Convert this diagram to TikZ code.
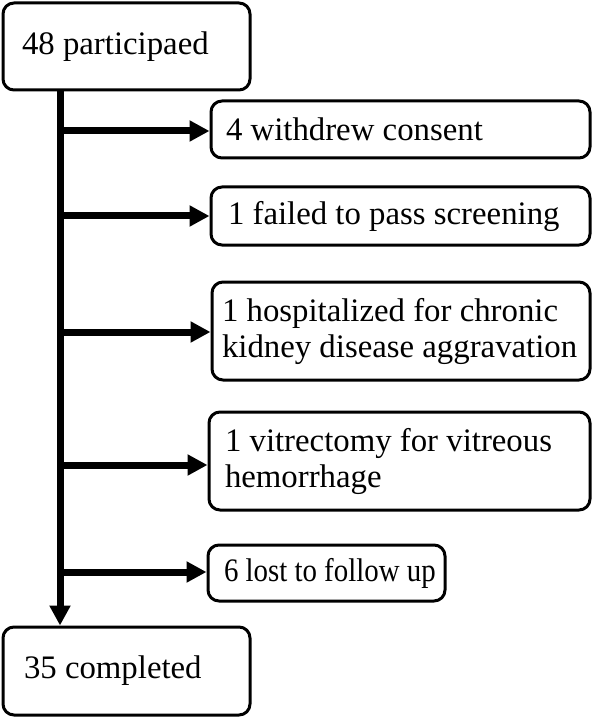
\documentclass[tikz,border=0pt]{standalone}
\usepackage{fontspec}
\usepackage{graphicx}
\setmainfont{Liberation Serif}
\usetikzlibrary{arrows.meta}
\hyphenpenalty=10000
\exhyphenpenalty=10000
\begin{document}
\begin{tikzpicture}[x=1pt,y=-1pt,
  box/.style={draw, line width=3pt, rounded corners=11pt, inner ysep=0pt,
    font=\fontsize{32.8}{36}\selectfont, align=flush left},
  flow/.style={line width=7pt, -{Triangle[length=20pt,width=20pt]}}]
\useasboundingbox (0,0) rectangle (596,719);
\node[box, minimum width=247pt, minimum height=87pt, text width=209pt, inner xsep=19pt] (top) at (126.5,46.5) {\mbox{48 participaed}};
\node[box, minimum width=247pt, minimum height=88pt, text width=205pt, inner xsep=21pt] (bot) at (126.5,671) {\mbox{35 completed}};
\node[box, minimum width=379pt, minimum height=57pt, text width=349pt, inner xsep=15pt] (b1) at (400.5,129.5) {\mbox{4 withdrew consent}};
\node[box, minimum width=379pt, minimum height=58pt, text width=345pt, inner xsep=17pt] (b2) at (400.5,216) {\mbox{1 failed to pass screening}};
\node[box, minimum width=378pt, minimum height=98pt, text width=358pt, inner xsep=10pt] (b3) at (401,331) {\mbox{1 hospitalized for chronic}\\\mbox{kidney disease aggravation}};
\node[box, minimum width=381pt, minimum height=98pt, text width=349pt, inner xsep=16pt] (b4) at (399.5,461) {\mbox{1 vitrectomy for vitreous}\\\mbox{hemorrhage}};
\node[box, minimum width=237pt, minimum height=56pt, text width=205pt, inner xsep=16pt] (b5) at (326.5,573) {\scalebox{0.88}[1]{6 lost to follow up}};
\coordinate (t1) at (60,131);
\coordinate (t2) at (60,216);
\coordinate (t3) at (60,332);
\coordinate (t4) at (60,465);
\coordinate (t5) at (60,572);
\draw[flow] (top.south -| t1) -- (bot.north -| t1);
\draw[flow] (t1) -- (b1.west |- t1);
\draw[flow] (t2) -- (b2.west |- t2);
\draw[flow] (t3) -- (b3.west |- t3);
\draw[flow] (t4) -- (b4.west |- t4);
\draw[flow] (t5) -- (b5.west |- t5);
\end{tikzpicture}
\end{document}
